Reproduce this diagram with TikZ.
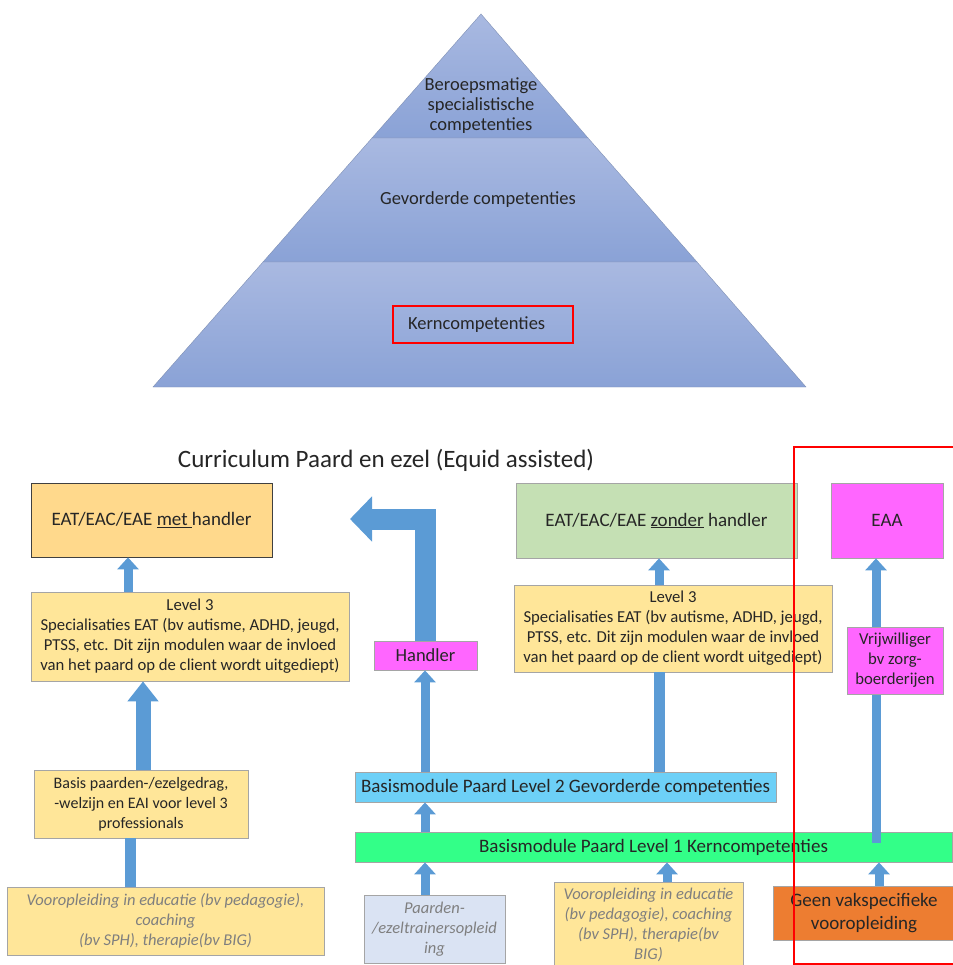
\documentclass[tikz,border=0pt]{standalone}
\usepackage{fontspec}
\setmainfont{Carlito}
\usetikzlibrary{arrows.meta}

\definecolor{pyrtop}{HTML}{A9B9E1}
\definecolor{pyrbot}{HTML}{8AA2D6}
\definecolor{pyrline}{HTML}{7F90B4}
\definecolor{arrowblue}{HTML}{5B9BD5}
\definecolor{handlerfill}{HTML}{FFD98C}
\definecolor{levelfill}{HTML}{FFE699}
\definecolor{zonderfill}{HTML}{C5E0B4}
\definecolor{pinkfill}{HTML}{FF66FF}
\definecolor{lvltwofill}{HTML}{6DD0F7}
\definecolor{lvlonefill}{HTML}{33FF88}
\definecolor{trainerfill}{HTML}{DAE3F3}
\definecolor{geenfill}{HTML}{ED7D31}
\definecolor{boxline}{HTML}{A5A5A5}
\definecolor{pretext}{HTML}{7F7F7F}
\definecolor{darktext}{HTML}{262626}

\tikzset{
  box/.style={draw=boxline, line width=0.8pt, align=center, inner sep=2pt,
    text=darktext, font=\fontsize{16.7}{20}\selectfont},
  bigbox/.style={box, font=\fontsize{19}{23}\selectfont},
  prebox/.style={box, text=pretext, font=\fontsize{16.5}{20}\selectfont\itshape},
  pyrtext/.style={align=center, text=darktext, font=\fontsize{18.5}{20}\selectfont},
  uparr/.style={draw=arrowblue, line width=9pt, -{Triangle[width=21pt,length=12pt]}},
  bigarr/.style={draw=arrowblue, line width=15pt, -{Triangle[width=30pt,length=20pt]}},
  bararr/.style={draw=arrowblue, line width=11pt},
  turnarr/.style={draw=arrowblue, line width=21pt, line join=miter,
    -{Triangle[width=44pt,length=22pt]}},
}

\begin{document}
\begin{tikzpicture}[x=1pt, y=-1pt]
\useasboundingbox (0,0) rectangle (952,965);

% pyramid
\shade[top color=pyrtop, bottom color=pyrbot, draw=pyrline]
  (481,14) -- (588,138) -- (372,138) -- cycle;
\shade[top color=pyrtop, bottom color=pyrbot, draw=pyrline]
  (372,138) -- (588,138) -- (697,262) -- (263,262) -- cycle;
\shade[top color=pyrtop, bottom color=pyrbot, draw=pyrline]
  (263,262) -- (697,262) -- (806,387) -- (153,387) -- cycle;
\node[pyrtext] (beroep) at (481,106) {Beroepsmatige\\specialistische\\competenties};
\node[pyrtext] (gevord) at (478,200) {Gevorderde competenties};
\node[pyrtext, draw=red, line width=2pt, minimum width=180, minimum height=37,
  text width=150, align=left, inner xsep=14pt] (kern) at (483,324.5) {Kerncompetenties};

% curriculum
\node[text=darktext, font=\fontsize{25}{30}\selectfont] (titel) at (386,460) {Curriculum Paard en ezel (Equid assisted)};

\node[bigbox, draw=black!75, fill=handlerfill, minimum width=241, minimum height=74]
  (metH) at (151.5,520) {EAT/EAC/EAE \underline{met\ }handler};
\node[box, fill=levelfill, minimum width=318, minimum height=89]
  (lvlL) at (190,636.5) {Level 3\\Specialisaties EAT (bv autisme, ADHD, jeugd,\\PTSS, etc. Dit zijn modulen waar de invloed\\van het paard op de client wordt uitgediept)};
\node[box, fill=levelfill, minimum width=214, minimum height=68, font=\fontsize{16}{20}\selectfont]
  (basis) at (141,804) {Basis paarden-/ezelgedrag,\\-welzijn en EAI voor level 3\\professionals};
\node[prebox, fill=levelfill, minimum width=317, minimum height=68]
  (vooL) at (165.5,921) {Vooropleiding in educatie (bv pedagogie),\\coaching\\(bv SPH), therapie(bv BIG)};

\node[bigbox, fill=pinkfill, minimum width=103, minimum height=29, font=\fontsize{18.5}{22}\selectfont]
  (handler) at (425.5,655.5) {Handler};
\node[bigbox, fill=lvltwofill, minimum width=421, minimum height=30]
  (lvl2) at (565.5,787) {Basismodule Paard Level 2 Gevorderde competenties};
\node[bigbox, fill=lvlonefill, minimum width=597, minimum height=30]
  (lvl1) at (653.5,847) {Basismodule Paard Level 1 Kerncompetenties};
\node[prebox, fill=trainerfill, minimum width=141, minimum height=68]
  (paard) at (434.5,929) {Paarden-\\/ezeltrainersopleid\\ing};

\node[bigbox, fill=zonderfill, minimum width=281, minimum height=75]
  (zonH) at (656.5,520.5) {EAT/EAC/EAE \underline{zonder} handler};
\node[box, fill=levelfill, minimum width=318, minimum height=87]
  (lvlR) at (673,628.5) {Level 3\\Specialisaties EAT (bv autisme, ADHD, jeugd,\\PTSS, etc. Dit zijn modulen waar de invloed\\van het paard op de client wordt uitgediept)};
\node[prebox, fill=levelfill, minimum width=189, minimum height=86]
  (vooM) at (648.5,925) {Vooropleiding in educatie\\(bv pedagogie), coaching\\(bv SPH), therapie(bv\\BIG)};

\node[bigbox, fill=pinkfill, minimum width=112, minimum height=75]
  (eaa) at (887,520.5) {EAA};
\node[bigbox, fill=geenfill, minimum width=181, minimum height=54]
  (geen) at (864,913) {Geen vakspecifieke\\vooropleiding};

% arrows
\coordinate (lend) at (350,519);
\draw[uparr] (lvlL.north -| 128,0) -- (metH.south -| 128,0);
\draw[bigarr] (basis.north -| 143,0) -- (lvlL.south -| 143,0);
\draw[bararr] (vooL.north -| 130,0) -- (basis.south -| 130,0);
\draw[uparr] (paard.north -| 425,0) -- (lvl1.south -| 425,0);
\draw[uparr] (lvl1.north -| 425,0) -- (lvl2.south -| 425,0);
\draw[uparr] (lvl2.north -| 425,0) -- (handler.south -| 425,0);
\draw[turnarr] (handler.north -| 425,0) |- (lend);
\draw[bararr] (lvl2.north -| 659,0) -- (lvlR.south -| 659,0);
\draw[uparr] (lvlR.north -| 659,0) -- (zonH.south -| 659,0);
\draw[uparr] (vooM.north -| 667,0) -- (lvl1.south -| 667,0);
\draw[uparr] (geen.north -| 879,0) -- (lvl1.south -| 879,0);
\draw[uparr] ([yshift=-11pt]lvl1.north -| 876,0) -- (eaa.south -| 876,0);

\node[box, fill=pinkfill, minimum width=96, minimum height=67]
  (vrij) at (895,660.5) {Vrijwilliger\\bv zorg-\\boerderijen};

% red frame
\draw[red, line width=2pt] (794,447) rectangle (962,964);
\end{tikzpicture}
\end{document}
